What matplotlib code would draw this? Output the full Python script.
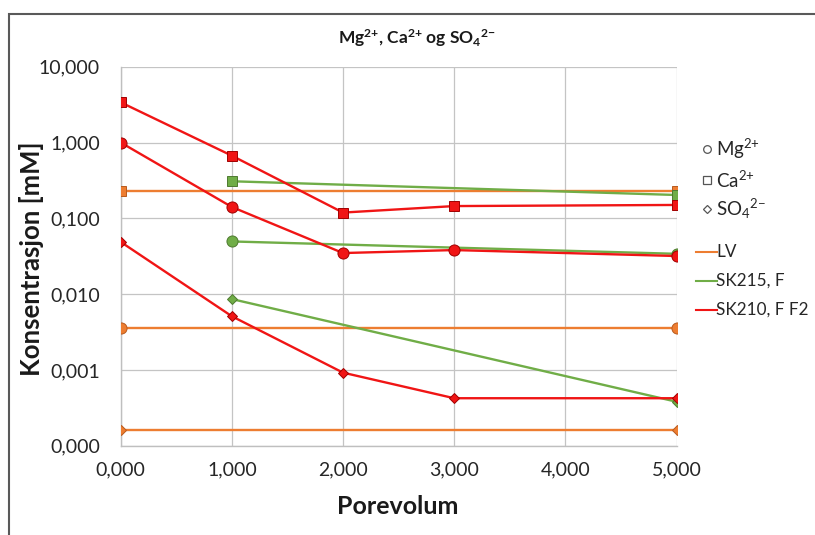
import matplotlib
matplotlib.use("Agg")
import matplotlib.pyplot as plt
from matplotlib.ticker import FuncFormatter, FixedLocator, NullLocator
from matplotlib.patches import Rectangle
from matplotlib.lines import Line2D

plt.rcParams['font.family'] = ['Lato', 'DejaVu Sans']
plt.rcParams['mathtext.default'] = 'regular'

# ---- data ----
lv_x = [0, 5]
lv_ca = [0.23, 0.23]
lv_mg = [0.00355, 0.00355]
lv_so4 = [0.000162, 0.000162]

sk215_x = [1, 5]
sk215_ca = [0.308, 0.203]
sk215_mg = [0.0495, 0.034]
sk215_so4 = [0.0086, 0.00038]

sk210_x = [0, 1, 2, 3, 5]
sk210_ca = [3.39, 0.67, 0.119, 0.145, 0.15]
sk210_mg = [1.0, 0.141, 0.0348, 0.0381, 0.0318]
sk210_so4 = [0.0488, 0.0051, 0.00092, 0.000423, 0.000423]

x_ticks = [0, 1, 2, 3, 4, 5]
y_ticks = [0.0001, 0.001, 0.01, 0.1, 1, 10]

series_names = ["LV", "SK215, F", "SK210, F F2"]
ion_names = [r"Mg$^{2{+}}$", r"Ca$^{2{+}}$", r"SO$_4$$^{2{-}}$"]
title_text = r"Mg$^{2{+}}$, Ca$^{2{+}}$ og SO$_4$$^{2{-}}$"

# ---- styling ----
C_LV = "#ED7D31"
C_SK215 = "#70AD47"
C_SK210 = "#F01515"
E_LV = "#B85A1E"
E_SK215 = "#4E7A30"
E_SK210 = "#A00000"

W, H = 815, 535
fig = plt.figure(figsize=(W / 100, H / 100), dpi=100)
ax = fig.add_axes([120.7 / W, 1 - 445.7 / H, (676.5 - 120.7) / W, (445.7 - 66.7) / H])

def draw(x, ca, mg, so4, color, edge, zorder):
    lw = 1.7
    ax.plot(x, ca, color=color, lw=lw, marker='s', ms=7.5, mfc=color, mec=edge, mew=0.7, zorder=zorder)
    ax.plot(x, mg, color=color, lw=lw, marker='o', ms=8, mfc=color, mec=edge, mew=0.7, zorder=zorder)
    ax.plot(x, so4, color=color, lw=lw, marker='D', ms=5.5, mfc=color, mec=edge, mew=0.7, zorder=zorder)

draw(lv_x, lv_ca, lv_mg, lv_so4, C_LV, E_LV, 3)
draw(sk215_x, sk215_ca, sk215_mg, sk215_so4, C_SK215, E_SK215, 4)
draw(sk210_x, sk210_ca, sk210_mg, sk210_so4, C_SK210, E_SK210, 5)

ax.set_yscale('log')
ax.set_ylim(0.0001, 10)
ax.set_xlim(0, 5)
ax.xaxis.set_major_locator(FixedLocator(x_ticks))
ax.yaxis.set_major_locator(FixedLocator(y_ticks))
ax.yaxis.set_minor_locator(NullLocator())
fmt = FuncFormatter(lambda v, p: f"{v:.3f}".replace('.', ','))
ax.xaxis.set_major_formatter(fmt)
ax.yaxis.set_major_formatter(fmt)
ax.tick_params(axis='both', length=0, labelsize=14)
ax.tick_params(axis='x', pad=11)
ax.tick_params(axis='y', pad=15)
for lab in ax.get_xticklabels() + ax.get_yticklabels():
    lab.set_color('#262626')

ax.grid(True, color='#C4C4C4', lw=0.9, zorder=0)
ax.set_axisbelow(True)
for s in ['top', 'right']:
    ax.spines[s].set_visible(False)
for s in ['left', 'bottom']:
    ax.spines[s].set_color('#BFBFBF')
    ax.spines[s].set_linewidth(1.0)

# axis labels
fig.text(32 / W, 1 - 259 / H, "Konsentrasjon [mM]", rotation=90, ha='center', va='center',
         fontsize=18.5, fontweight='bold', color='#1a1a1a')
fig.text(398 / W, 1 - 507 / H, "Porevolum", ha='center', va='center',
         fontsize=18, fontweight='bold', color='#1a1a1a')

# title
fig.text(417 / W, 1 - 38 / H, title_text, ha='center', va='center',
         fontsize=12.5, fontweight='bold', color='#1a1a1a')

# legend: ion symbols
ion_markers = ['o', 's', 'D']
ion_ms = [5.5, 5.5, 4]
ion_y = [149, 180, 208.5]
for m, ms, yy, nm in zip(ion_markers, ion_ms, ion_y, ion_names):
    fig.add_artist(Line2D([707.3 / W], [1 - yy / H], marker=m, ms=ms, mfc='white', mec='#555555',
                          mew=0.9, ls='none', transform=fig.transFigure))
    fig.text(716 / W, 1 - yy / H, nm, ha='left', va='center', fontsize=13.5, color='#262626')

line_colors = [C_LV, C_SK215, C_SK210]
line_y = [251.7, 281, 310]
for c, yy, nm in zip(line_colors, line_y, series_names):
    fig.add_artist(Line2D([696 / W, 716.5 / W], [1 - yy / H, 1 - yy / H], color=c, lw=1.5,
                          transform=fig.transFigure))
    fig.text(716.5 / W, 1 - yy / H, nm, ha='left', va='center', fontsize=12.3, color='#262626')

# outer chart border
fig.add_artist(Rectangle((9 / W, -0.05), 1.2, 1 - 14 / H + 0.05, fill=False, ec='#595959', lw=1.5,
                         transform=fig.transFigure))

fig.savefig("out.png", dpi=100)
